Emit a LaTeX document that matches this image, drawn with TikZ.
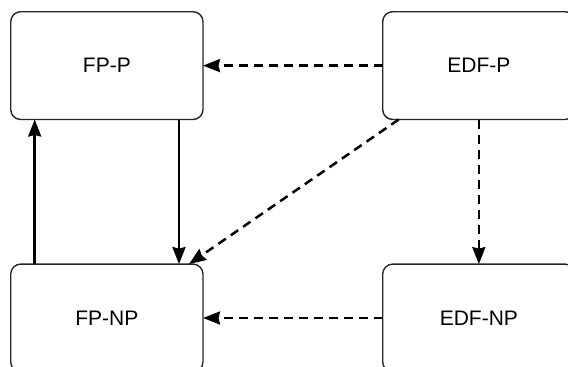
\documentclass[tikz,border=0pt]{standalone}
\usepackage{fontspec}
\setmainfont{Liberation Sans}
\usetikzlibrary{arrows.meta}
\begin{document}
\begin{tikzpicture}[x=1pt,y=-1pt,
  box/.style={draw=black!85,line width=1.4pt,rounded corners=10pt,
    minimum width=192.3pt,minimum height=107.8pt,inner sep=0pt,outer sep=0pt,
    font=\fontsize{21}{25}\selectfont},
  conn/.style={line width=2.5pt,-{Stealth[length=17pt,width=13pt,inset=1.5pt]}},
  dconn/.style={conn,dash pattern=on 9pt off 6pt}]
\useasboundingbox (0,0) rectangle (568,367);
\node[box] (fpp)   at (106.85,65.6) {FP-P};
\node[box] (edfp)  at (478.85,65.6) {EDF-P};
\node[box] (fpnp)  at (106.85,318) {FP-NP};
\node[box] (edfnp) at (478.85,318) {EDF-NP};
\draw[dconn] (edfp.west) -- (fpp.east);
\draw[conn] ([xshift=-24pt]fpp.south east) -- ([xshift=-24pt]fpnp.north east);
\draw[conn] ([xshift=24pt]fpnp.north west) -- ([xshift=24pt]fpp.south west);
\draw[dconn] (edfp.south) -- (edfnp.north);
\draw[dconn] (edfnp.west) -- (fpnp.east);
\draw[dconn] ([xshift=16pt]edfp.south west) -- ([xshift=-14pt]fpnp.north east);
\end{tikzpicture}
\end{document}
